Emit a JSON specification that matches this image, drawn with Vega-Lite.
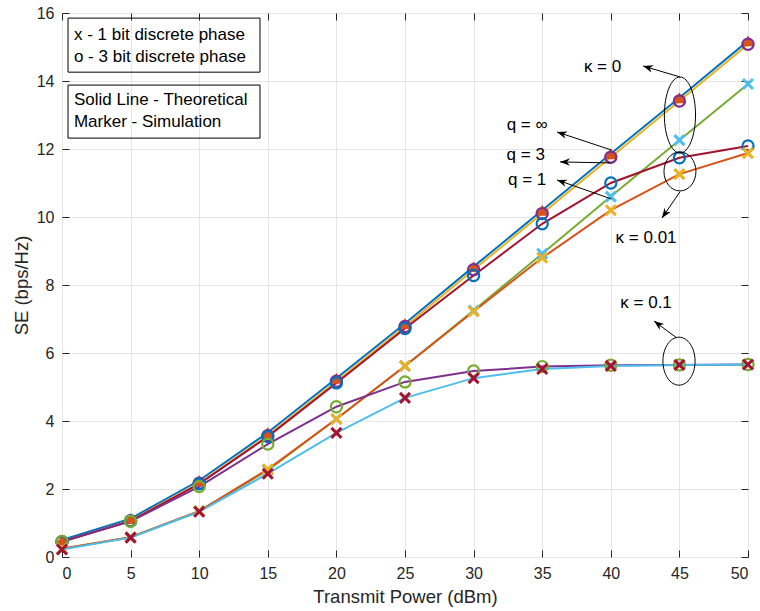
{
  "$schema": "https://vega.github.io/schema/vega-lite/v6.json",
  "width": 686,
  "height": 544,
  "autosize": "none",
  "padding": {"left": 62, "top": 13, "right": 12, "bottom": 54},
  "background": "white",
  "config": {
    "view": {"stroke": "#262626", "strokeWidth": 1},
    "font": "Liberation Sans"
  },
  "datasets": {
    "pts": [
      {"s": "k0inf", "x": 0, "y": 0.5}, {"s": "k0inf", "x": 5, "y": 1.13}, {"s": "k0inf", "x": 10, "y": 2.25}, {"s": "k0inf", "x": 15, "y": 3.66}, {"s": "k0inf", "x": 20, "y": 5.26}, {"s": "k0inf", "x": 25, "y": 6.87}, {"s": "k0inf", "x": 30, "y": 8.54}, {"s": "k0inf", "x": 35, "y": 10.2}, {"s": "k0inf", "x": 40, "y": 11.86}, {"s": "k0inf", "x": 45, "y": 13.51}, {"s": "k0inf", "x": 50, "y": 15.18},
      {"s": "k0_3", "x": 0, "y": 0.45}, {"s": "k0_3", "x": 5, "y": 1.07}, {"s": "k0_3", "x": 10, "y": 2.17}, {"s": "k0_3", "x": 15, "y": 3.57}, {"s": "k0_3", "x": 20, "y": 5.17}, {"s": "k0_3", "x": 25, "y": 6.78}, {"s": "k0_3", "x": 30, "y": 8.45}, {"s": "k0_3", "x": 35, "y": 10.1}, {"s": "k0_3", "x": 40, "y": 11.76}, {"s": "k0_3", "x": 45, "y": 13.41}, {"s": "k0_3", "x": 50, "y": 15.08},
      {"s": "k0_1", "x": 0, "y": 0.24}, {"s": "k0_1", "x": 5, "y": 0.58}, {"s": "k0_1", "x": 10, "y": 1.35}, {"s": "k0_1", "x": 15, "y": 2.55}, {"s": "k0_1", "x": 20, "y": 4.06}, {"s": "k0_1", "x": 25, "y": 5.62}, {"s": "k0_1", "x": 30, "y": 7.25}, {"s": "k0_1", "x": 35, "y": 8.92}, {"s": "k0_1", "x": 40, "y": 10.6}, {"s": "k0_1", "x": 45, "y": 12.26}, {"s": "k0_1", "x": 50, "y": 13.91},
      {"s": "k001_3", "x": 0, "y": 0.45}, {"s": "k001_3", "x": 5, "y": 1.06}, {"s": "k001_3", "x": 10, "y": 2.15}, {"s": "k001_3", "x": 15, "y": 3.54}, {"s": "k001_3", "x": 20, "y": 5.12}, {"s": "k001_3", "x": 25, "y": 6.72}, {"s": "k001_3", "x": 30, "y": 8.28}, {"s": "k001_3", "x": 35, "y": 9.8}, {"s": "k001_3", "x": 40, "y": 11.0}, {"s": "k001_3", "x": 45, "y": 11.74}, {"s": "k001_3", "x": 50, "y": 12.09},
      {"s": "k001_1", "x": 0, "y": 0.24}, {"s": "k001_1", "x": 5, "y": 0.58}, {"s": "k001_1", "x": 10, "y": 1.35}, {"s": "k001_1", "x": 15, "y": 2.58}, {"s": "k001_1", "x": 20, "y": 4.06}, {"s": "k001_1", "x": 25, "y": 5.62}, {"s": "k001_1", "x": 30, "y": 7.22}, {"s": "k001_1", "x": 35, "y": 8.8}, {"s": "k001_1", "x": 40, "y": 10.2}, {"s": "k001_1", "x": 45, "y": 11.26}, {"s": "k001_1", "x": 50, "y": 11.88},
      {"s": "k01_3", "x": 0, "y": 0.46}, {"s": "k01_3", "x": 5, "y": 1.05}, {"s": "k01_3", "x": 10, "y": 2.07}, {"s": "k01_3", "x": 15, "y": 3.32}, {"s": "k01_3", "x": 20, "y": 4.42}, {"s": "k01_3", "x": 25, "y": 5.15}, {"s": "k01_3", "x": 30, "y": 5.47}, {"s": "k01_3", "x": 35, "y": 5.6}, {"s": "k01_3", "x": 40, "y": 5.64}, {"s": "k01_3", "x": 45, "y": 5.65}, {"s": "k01_3", "x": 50, "y": 5.66},
      {"s": "k01_1", "x": 0, "y": 0.22}, {"s": "k01_1", "x": 5, "y": 0.57}, {"s": "k01_1", "x": 10, "y": 1.33}, {"s": "k01_1", "x": 15, "y": 2.45}, {"s": "k01_1", "x": 20, "y": 3.65}, {"s": "k01_1", "x": 25, "y": 4.68}, {"s": "k01_1", "x": 30, "y": 5.26}, {"s": "k01_1", "x": 35, "y": 5.53}, {"s": "k01_1", "x": 40, "y": 5.62}, {"s": "k01_1", "x": 45, "y": 5.65}, {"s": "k01_1", "x": 50, "y": 5.66}
    ],
    "boxes": [
      {"x": 0.44, "x2": 14.43, "y": 15.85, "y2": 14.26},
      {"x": 0.44, "x2": 14.43, "y": 13.88, "y2": 12.32}
    ],
    "boxtext": [
      {"t": "x - 1 bit discrete phase", "x": 0.87, "y": 15.35},
      {"t": "o - 3 bit discrete phase", "x": 0.87, "y": 14.71},
      {"t": "Solid Line - Theoretical", "x": 0.87, "y": 13.44},
      {"t": "Marker - Simulation", "x": 0.87, "y": 12.79}
    ],
    "annot": [
      {"t": "κ = 0", "x": 39.4, "y": 14.41},
      {"t": "κ = 0.01", "x": 42.57, "y": 9.38},
      {"t": "κ = 0.1", "x": 42.57, "y": 7.47},
      {"t": "q = ∞", "x": 33.9, "y": 12.7},
      {"t": "q = 3", "x": 33.8, "y": 11.82},
      {"t": "q = 1", "x": 33.9, "y": 11.09}
    ],
    "arrows": [
      {"fx": 40.05, "fy": 11.97, "tx": 36.08, "ty": 12.5},
      {"fx": 40.05, "fy": 11.59, "tx": 36.3, "ty": 11.62},
      {"fx": 40.05, "fy": 10.53, "tx": 36.08, "ty": 11.09},
      {"fx": 45.04, "fy": 14.12, "tx": 42.35, "ty": 14.44},
      {"fx": 45.04, "fy": 10.74, "tx": 43.73, "ty": 9.97},
      {"fx": 44.82, "fy": 6.44, "tx": 43.15, "ty": 6.94}
    ],
    "ell": [
      {"k": "0", "x": 45.04, "y": 13.0},
      {"k": "0.01", "x": 45.04, "y": 11.34},
      {"k": "0.1", "x": 44.97, "y": 5.76}
    ]
  },
  "resolve": {"axis": {"x": "independent", "y": "independent"}, "scale": {"stroke": "independent"}},
  "layer": [
    {
      "data": {"name": "pts"},
      "mark": {"type": "line", "strokeWidth": 2},
      "encoding": {
        "x": {"field": "x", "type": "quantitative", "scale": {"domain": [0, 50], "nice": false},
          "axis": {"orient": "bottom", "values": [0,5,10,15,20,25,30,35,40,45,50], "grid": true, "gridColor": "#e6e6e6", "ticks": false, "domain": false,
            "labelFontSize": 16, "labelColor": "#262626", "labelPadding": 8, "labelFont": "Liberation Sans",
            "title": "Transmit Power (dBm)", "titleFontSize": 18.5, "titleFontWeight": "normal", "titleColor": "#262626", "titlePadding": 6, "titleFont": "Liberation Sans"}},
        "y": {"field": "y", "type": "quantitative", "scale": {"domain": [0, 16], "nice": false},
          "axis": {"orient": "left", "values": [0,2,4,6,8,10,12,14,16], "grid": true, "gridColor": "#e6e6e6", "ticks": false, "domain": false,
            "labelFontSize": 16, "labelColor": "#262626", "labelPadding": 8, "labelFont": "Liberation Sans",
            "title": "SE (bps/Hz)", "titleFontSize": 18.5, "titleFontWeight": "normal", "titleColor": "#262626", "titlePadding": 5, "titleFont": "Liberation Sans"}},
        "stroke": {"field": "s", "type": "nominal", "legend": null,
          "scale": {"domain": ["k0inf", "k0_3", "k0_1", "k001_3", "k001_1", "k01_3", "k01_1"],
            "range": ["#0072BD", "#EDB120", "#77AC30", "#A2142F", "#D95319", "#7E2F8E", "#4DBEEE"]}}
      }
    },
    {
      "data": {"name": "pts"},
      "mark": {"type": "point", "opacity": 0},
      "encoding": {
        "x": {"field": "x", "type": "quantitative", "axis": {"orient": "bottom", "offset": -7, "values": [0,5,10,15,20,25,30,35,40,45,50], "labels": false, "domain": false, "grid": false, "tickSize": 7, "tickColor": "#262626", "tickWidth": 1, "title": null}},
        "y": {"field": "y", "type": "quantitative", "axis": {"orient": "left", "offset": -7, "values": [0,2,4,6,8,10,12,14,16], "labels": false, "domain": false, "grid": false, "tickSize": 7, "tickColor": "#262626", "tickWidth": 1, "title": null}}
      }
    },
    {
      "data": {"name": "pts"},
      "mark": {"type": "point", "opacity": 0},
      "encoding": {
        "x": {"field": "x", "type": "quantitative", "axis": {"orient": "top", "offset": -7, "values": [0,5,10,15,20,25,30,35,40,45,50], "labels": false, "domain": false, "grid": false, "tickSize": 7, "tickColor": "#262626", "tickWidth": 1, "title": null}},
        "y": {"field": "y", "type": "quantitative", "axis": {"orient": "right", "offset": -7, "values": [0,2,4,6,8,10,12,14,16], "labels": false, "domain": false, "grid": false, "tickSize": 7, "tickColor": "#262626", "tickWidth": 1, "title": null}}
      }
    },
    {
      "data": {"name": "pts"},
      "transform": [{"filter": "datum.s == 'k0inf'"}],
      "mark": {"type": "point", "shape": "triangle-up", "filled": true, "color": "#D95319", "opacity": 1, "size": 160},
      "encoding": {
        "x": {"field": "x", "type": "quantitative", "axis": null},
        "y": {"field": "y", "type": "quantitative", "axis": null}
      }
    },
    {
      "data": {"name": "pts"},
      "transform": [{"filter": {"field": "s", "oneOf": ["k0_3", "k001_3", "k01_3"]}}],
      "mark": {"type": "point", "shape": "circle", "filled": false, "strokeWidth": 2.2, "opacity": 1, "size": 125},
      "encoding": {
        "x": {"field": "x", "type": "quantitative", "axis": null},
        "y": {"field": "y", "type": "quantitative", "axis": null},
        "stroke": {"field": "s", "type": "nominal", "legend": null,
          "scale": {"domain": ["k0_3", "k001_3", "k01_3"], "range": ["#7E2F8E", "#0072BD", "#77AC30"]}}
      }
    },
    {
      "data": {"name": "pts"},
      "transform": [{"filter": {"field": "s", "oneOf": ["k0_1", "k001_1", "k01_1"]}}],
      "mark": {"type": "point", "shape": "M-1,-1L1,1M-1,1L1,-1", "filled": false, "strokeWidth": 3, "opacity": 1, "size": 100},
      "encoding": {
        "x": {"field": "x", "type": "quantitative", "axis": null},
        "y": {"field": "y", "type": "quantitative", "axis": null},
        "stroke": {"field": "s", "type": "nominal", "legend": null,
          "scale": {"domain": ["k0_1", "k001_1", "k01_1"], "range": ["#4DBEEE", "#EDB120", "#A2142F"]}}
      }
    },
    {
      "data": {"name": "boxes"},
      "mark": {"type": "rect", "fill": null, "fillOpacity": 0, "stroke": "#000000", "strokeWidth": 1},
      "encoding": {
        "x": {"field": "x", "type": "quantitative", "axis": null},
        "x2": {"field": "x2"},
        "y": {"field": "y", "type": "quantitative", "axis": null},
        "y2": {"field": "y2"}
      }
    },
    {
      "data": {"name": "boxtext"},
      "mark": {"type": "text", "align": "left", "baseline": "middle", "fontSize": 17, "font": "Liberation Sans", "color": "#000000"},
      "encoding": {
        "x": {"field": "x", "type": "quantitative", "axis": null},
        "y": {"field": "y", "type": "quantitative", "axis": null},
        "text": {"field": "t"}
      }
    },
    {
      "data": {"name": "annot"},
      "mark": {"type": "text", "align": "center", "baseline": "middle", "fontSize": 17, "font": "Liberation Sans", "color": "#000000"},
      "encoding": {
        "x": {"field": "x", "type": "quantitative", "axis": null},
        "y": {"field": "y", "type": "quantitative", "axis": null},
        "text": {"field": "t"}
      }
    },
    {
      "data": {"name": "arrows"},
      "mark": {"type": "rule", "color": "#000000", "strokeWidth": 1},
      "encoding": {
        "x": {"field": "fx", "type": "quantitative", "axis": null},
        "y": {"field": "fy", "type": "quantitative", "axis": null},
        "x2": {"field": "tx"},
        "y2": {"field": "ty"}
      }
    },
    {
      "data": {"name": "arrows"},
      "transform": [{"calculate": "atan2((datum.tx - datum.fx) * 13.72, (datum.ty - datum.fy) * 34) * 180 / PI", "as": "ang"}],
      "mark": {"type": "point", "shape": "M0,0L0.6,1.6L0,1.1L-0.6,1.6Z", "filled": true, "color": "#000000", "opacity": 1, "size": 156},
      "encoding": {
        "x": {"field": "tx", "type": "quantitative", "axis": null},
        "y": {"field": "ty", "type": "quantitative", "axis": null},
        "angle": {"field": "ang", "type": "quantitative", "scale": null}
      }
    },
    {
      "data": {"name": "ell"},
      "transform": [{"filter": "datum.k == '0'"}],
      "mark": {"type": "point", "shape": "M-0.41,0A0.41,1 0 1,1 0.41,0A0.41,1 0 1,1 -0.41,0Z", "filled": false, "stroke": "#000000", "strokeWidth": 1, "opacity": 1, "size": 5776},
      "encoding": {
        "x": {"field": "x", "type": "quantitative", "axis": null},
        "y": {"field": "y", "type": "quantitative", "axis": null}
      }
    },
    {
      "data": {"name": "ell"},
      "transform": [{"filter": "datum.k == '0.01'"}],
      "mark": {"type": "point", "shape": "M-0.82,0A0.82,1 0 1,1 0.82,0A0.82,1 0 1,1 -0.82,0Z", "filled": false, "stroke": "#000000", "strokeWidth": 1, "opacity": 1, "size": 1521},
      "encoding": {
        "x": {"field": "x", "type": "quantitative", "axis": null},
        "y": {"field": "y", "type": "quantitative", "axis": null}
      }
    },
    {
      "data": {"name": "ell"},
      "transform": [{"filter": "datum.k == '0.1'"}],
      "mark": {"type": "point", "shape": "M-0.67,0A0.67,1 0 1,1 0.67,0A0.67,1 0 1,1 -0.67,0Z", "filled": false, "stroke": "#000000", "strokeWidth": 1, "opacity": 1, "size": 2304},
      "encoding": {
        "x": {"field": "x", "type": "quantitative", "axis": null},
        "y": {"field": "y", "type": "quantitative", "axis": null}
      }
    }
  ]
}
